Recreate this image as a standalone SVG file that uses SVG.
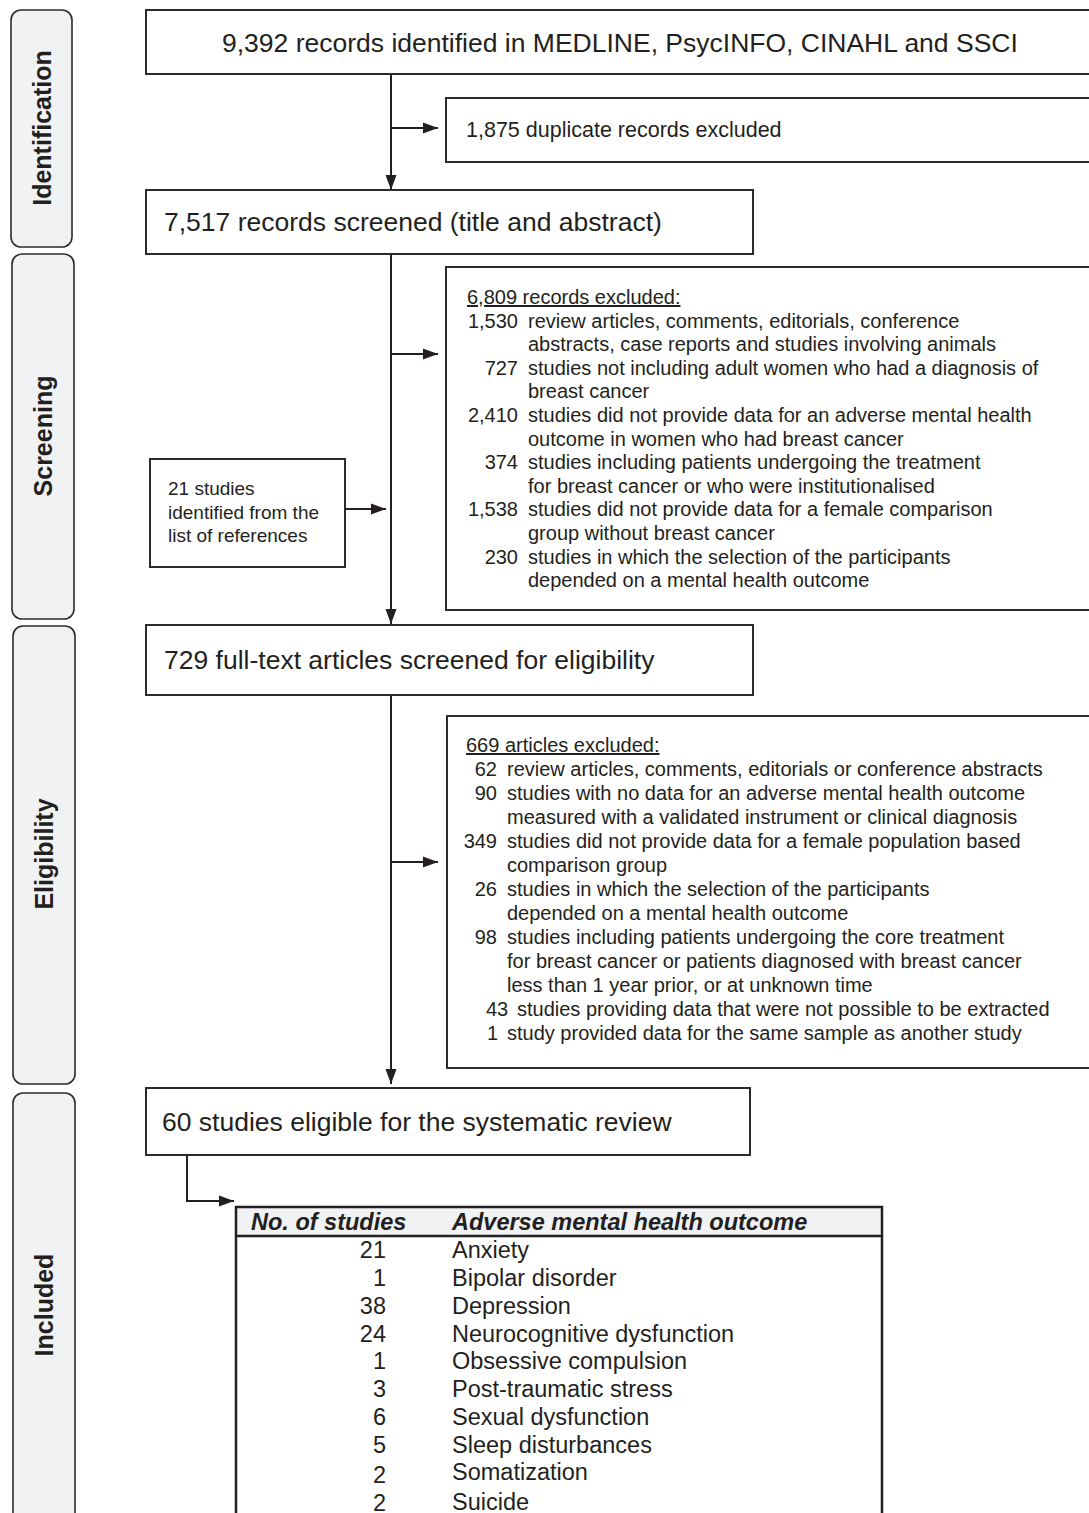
<svg xmlns="http://www.w3.org/2000/svg" width="1089" height="1513" viewBox="0 0 1089 1513">
<defs>
<marker id="arr" markerUnits="userSpaceOnUse" markerWidth="15" markerHeight="12" refX="15" refY="6" orient="auto">
<path d="M0,0.5 L15,6 L0,11.5 z" fill="#231f20"/>
</marker>
<style>
text{font-family:"Liberation Sans",Arial,sans-serif;fill:#231f20}
.side{fill:#f1f2f4;stroke:#2b2b2b;stroke-width:1.6}
.sidet{font-size:25px;font-weight:bold;text-anchor:middle}
.box{fill:#fff;stroke:#2b2b2b;stroke-width:2}
.main{font-size:26.5px}
.mid{font-size:21.5px}
.ex{font-size:20px}
.num{text-anchor:end}
.ul{text-decoration:underline}
.tbl{font-size:23.5px}
.th{font-weight:bold;font-style:italic}
.con{fill:none;stroke:#231f20;stroke-width:2}
</style>
</defs>
<rect width="1089" height="1513" fill="#fff"/>

<g id="phase-identification">
<rect class="side" x="11" y="10" width="61" height="237" rx="10"/>
<text class="sidet" transform="translate(41.5,128) rotate(-90)" dy="9">Identification</text>
</g>
<g id="phase-screening">
<rect class="side" x="12" y="254" width="62" height="365" rx="10"/>
<text class="sidet" transform="translate(43,436) rotate(-90)" dy="9">Screening</text>
</g>
<g id="phase-eligibility">
<rect class="side" x="13" y="626" width="62" height="458" rx="10"/>
<text class="sidet" transform="translate(44,854) rotate(-90)" dy="9">Eligibility</text>
</g>
<g id="phase-included">
<rect class="side" x="13" y="1093" width="62" height="450" rx="10"/>
<text class="sidet" transform="translate(44,1305) rotate(-90)" dy="9">Included</text>
</g>

<g id="connectors">
<line class="con" x1="391" y1="74" x2="391" y2="190" marker-end="url(#arr)"/>
<line class="con" x1="391" y1="128" x2="438" y2="128" marker-end="url(#arr)"/>
<line class="con" x1="391" y1="254" x2="391" y2="624" marker-end="url(#arr)"/>
<line class="con" x1="391" y1="354" x2="438" y2="354" marker-end="url(#arr)"/>
<line class="con" x1="345" y1="509" x2="386" y2="509" marker-end="url(#arr)"/>
<line class="con" x1="391" y1="695" x2="391" y2="1084" marker-end="url(#arr)"/>
<line class="con" x1="391" y1="862" x2="438" y2="862" marker-end="url(#arr)"/>
<polyline class="con" points="187,1155 187,1201 234,1201" marker-end="url(#arr)"/>
</g>

<g id="records-identified">
<rect class="box" x="146" y="10" width="980" height="64"/>
<text class="main" x="222" y="52">9,392 records identified in MEDLINE, PsycINFO, CINAHL and SSCI</text>
</g>

<g id="duplicates-excluded">
<rect class="box" x="446" y="98" width="680" height="64"/>
<text class="mid" x="466" y="137">1,875 duplicate records excluded</text>
</g>

<g id="records-screened">
<rect class="box" x="146" y="190" width="607" height="64"/>
<text class="main" x="164" y="231">7,517 records screened (title and abstract)</text>
</g>

<g id="records-excluded">
<rect class="box" x="446" y="267" width="680" height="343"/>
<text class="ex ul" x="467" y="304">6,809 records excluded:</text>
<text class="ex num" x="518" y="327.6">1,530</text>
<text class="ex" x="528" y="327.6">review articles, comments, editorials, conference</text>
<text class="ex" x="528" y="351.2">abstracts, case reports and studies involving animals</text>
<text class="ex num" x="518" y="374.8">727</text>
<text class="ex" x="528" y="374.8">studies not including adult women who had a diagnosis of</text>
<text class="ex" x="528" y="398.4">breast cancer</text>
<text class="ex num" x="518" y="422">2,410</text>
<text class="ex" x="528" y="422">studies did not provide data for an adverse mental health</text>
<text class="ex" x="528" y="445.6">outcome in women who had breast cancer</text>
<text class="ex num" x="518" y="469.2">374</text>
<text class="ex" x="528" y="469.2">studies including patients undergoing the treatment</text>
<text class="ex" x="528" y="492.8">for breast cancer or who were institutionalised</text>
<text class="ex num" x="518" y="516.4">1,538</text>
<text class="ex" x="528" y="516.4">studies did not provide data for a female comparison</text>
<text class="ex" x="528" y="540">group without breast cancer</text>
<text class="ex num" x="518" y="563.6">230</text>
<text class="ex" x="528" y="563.6">studies in which the selection of the participants</text>
<text class="ex" x="528" y="587.2">depended on a mental health outcome</text>
</g>

<g id="references">
<rect class="box" x="150" y="459" width="195" height="108"/>
<text style="font-size:19px" x="168" y="495">21 studies</text>
<text style="font-size:19px" x="168" y="518.5">identified from the</text>
<text style="font-size:19px" x="168" y="542">list of references</text>
</g>

<g id="fulltext-screened">
<rect class="box" x="146" y="625" width="607" height="70"/>
<text class="main" x="164" y="669">729 full-text articles screened for eligibility</text>
</g>

<g id="articles-excluded">
<rect class="box" x="447" y="716" width="680" height="352"/>
<text class="ex ul" x="466" y="752">669 articles excluded:</text>
<text class="ex num" x="497" y="776">62</text>
<text class="ex" x="507" y="776">review articles, comments, editorials or conference abstracts</text>
<text class="ex num" x="497" y="800">90</text>
<text class="ex" x="507" y="800">studies with no data for an adverse mental health outcome</text>
<text class="ex" x="507" y="824">measured with a validated instrument or clinical diagnosis</text>
<text class="ex num" x="497" y="848">349</text>
<text class="ex" x="507" y="848">studies did not provide data for a female population based</text>
<text class="ex" x="507" y="872">comparison group</text>
<text class="ex num" x="497" y="896">26</text>
<text class="ex" x="507" y="896">studies in which the selection of the participants</text>
<text class="ex" x="507" y="920">depended on a mental health outcome</text>
<text class="ex num" x="497" y="944">98</text>
<text class="ex" x="507" y="944">studies including patients undergoing the core treatment</text>
<text class="ex" x="507" y="968">for breast cancer or patients diagnosed with breast cancer</text>
<text class="ex" x="507" y="992">less than 1 year prior, or at unknown time</text>
<text class="ex" x="486" y="1016">43</text>
<text class="ex" x="517" y="1016">studies providing data that were not possible to be extracted</text>
<text class="ex" x="487" y="1040">1</text>
<text class="ex" x="507" y="1040">study provided data for the same sample as another study</text>
</g>

<g id="eligible">
<rect class="box" x="146" y="1088" width="604" height="67"/>
<text class="main" x="162" y="1131">60 studies eligible for the systematic review</text>
</g>

<g id="outcomes-table">
<rect x="236" y="1207" width="646" height="29" fill="#f1f2f4"/>
<path d="M236,1540 V1207 H882 V1540" fill="none" stroke="#231f20" stroke-width="2.5"/>
<line x1="236" y1="1236" x2="882" y2="1236" stroke="#231f20" stroke-width="2.5"/>
<text class="tbl th" x="251" y="1230">No. of studies</text>
<text class="tbl th" x="452" y="1230">Adverse mental health outcome</text>
<text class="tbl num" x="386" y="1258">21</text><text class="tbl" x="452" y="1258">Anxiety</text>
<text class="tbl num" x="386" y="1286">1</text><text class="tbl" x="452" y="1286">Bipolar disorder</text>
<text class="tbl num" x="386" y="1314">38</text><text class="tbl" x="452" y="1314">Depression</text>
<text class="tbl num" x="386" y="1342">24</text><text class="tbl" x="452" y="1342">Neurocognitive dysfunction</text>
<text class="tbl num" x="386" y="1369">1</text><text class="tbl" x="452" y="1369">Obsessive compulsion</text>
<text class="tbl num" x="386" y="1397">3</text><text class="tbl" x="452" y="1397">Post-traumatic stress</text>
<text class="tbl num" x="386" y="1425">6</text><text class="tbl" x="452" y="1425">Sexual dysfunction</text>
<text class="tbl num" x="386" y="1453">5</text><text class="tbl" x="452" y="1453">Sleep disturbances</text>
<text class="tbl num" x="386" y="1483">2</text><text class="tbl" x="452" y="1480">Somatization</text>
<text class="tbl num" x="386" y="1511">2</text><text class="tbl" x="452" y="1510">Suicide</text>
</g>
</svg>
